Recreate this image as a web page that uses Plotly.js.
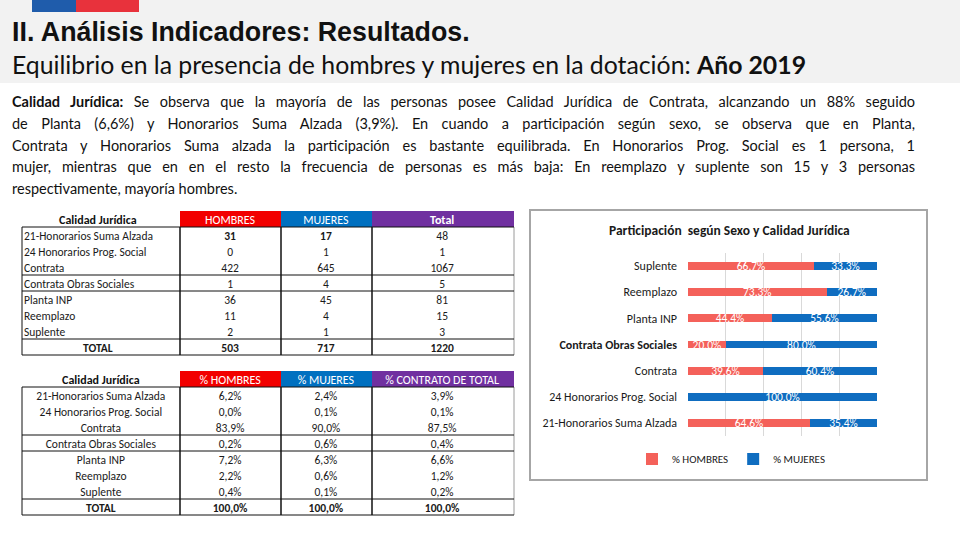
<!DOCTYPE html>
<html>
<head>
<meta charset="utf-8">
<script src="https://cdn.plot.ly/plotly-3.0.1.min.js"></script>
<style>
  body { margin: 0; width: 960px; height: 540px; background: #fff; overflow: hidden; position: relative; }
  #plot { position: absolute; left: 0; top: 0; width: 960px; height: 540px; }
  .band { position: absolute; left: 0; top: 0; width: 960px; height: 83px; background: #f2f2f2; }
  .flag { position: absolute; top: 0; height: 12px; }
  .title { position: absolute; left: 12px; top: 17px; font: bold 26.8px "Liberation Sans", Arial, sans-serif; color: #111; white-space: nowrap; }
  .subtitle { position: absolute; left: 12px; top: 50px; font: 24.8px Lato, "Noto Sans", sans-serif; color: #111; white-space: nowrap; }
  .para { position: absolute; left: 12px; top: 91px; width: 903px; font: 14.5px Lato, "Noto Sans", sans-serif; color: #111; line-height: 21.8px; }
  .para div { text-align: justify; text-align-last: justify; }
  .para div.last { text-align-last: left; }
</style>
</head>
<body>
<div class="band"></div>
<div class="flag" style="left:32px;width:44px;background:#1f5cab"></div>
<div class="flag" style="left:76px;width:63px;background:#e8323c"></div>
<div class="title">II. Análisis Indicadores: Resultados.</div>
<div class="subtitle">Equilibrio en la presencia de hombres y mujeres en la dotación: <b>Año 2019</b></div>
<div id="plot"></div>
<div class="para">
  <div><b>Calidad Jurídica:</b> Se observa que la mayoría de las personas posee Calidad Jurídica de Contrata, alcanzando un 88% seguido</div>
  <div>de Planta (6,6%) y Honorarios Suma Alzada (3,9%). En cuando a participación según sexo, se observa que en Planta,</div>
  <div>Contrata y Honorarios Suma alzada la participación es bastante equilibrada. En Honorarios Prog. Social es 1 persona, 1</div>
  <div>mujer, mientras que en en el resto la frecuencia de personas es más baja: En reemplazo y suplente son 15 y 3 personas</div>
  <div class="last">respectivamente, mayoría hombres.</div>
</div>
<script>
// --- data ---
const categories = ['21-Honorarios Suma Alzada', '24 Honorarios Prog. Social', 'Contrata',
  'Contrata Obras Sociales', 'Planta INP', 'Reemplazo', 'Suplente'];
const hombres = ['31', '0', '422', '1', '36', '11', '2'];
const mujeres = ['17', '1', '645', '4', '45', '4', '1'];
const totales = ['48', '1', '1067', '5', '81', '15', '3'];
const totalRow = ['TOTAL', '503', '717', '1220'];

const pctHombres = ['6,2%', '0,0%', '83,9%', '0,2%', '7,2%', '2,2%', '0,4%'];
const pctMujeres = ['2,4%', '0,1%', '90,0%', '0,6%', '6,3%', '0,6%', '0,1%'];
const pctTotal = ['3,9%', '0,1%', '87,5%', '0,4%', '6,6%', '1,2%', '0,2%'];
const pctTotalRow = ['TOTAL', '100,0%', '100,0%', '100,0%'];

const header1 = ['Calidad Jurídica', 'HOMBRES', 'MUJERES', 'Total'];
const header2 = ['Calidad Jurídica', '% HOMBRES', '% MUJERES', '% CONTRATO DE TOTAL'];
const headerColors = ['#ffffff', '#f20000', '#0070c0', '#7030a0'];

// participation by sex, bottom to top
const partHombres = [64.6, 0, 39.6, 20.0, 44.4, 73.3, 66.7];
const partMujeres = [35.4, 100.0, 60.4, 80.0, 55.6, 26.7, 33.3];

// --- layout helpers (pixel -> paper) ---
const W = 960, H = 540;
const px = v => v / W;
const py = v => 1 - v / H;
const FONT = 'Carlito, Lato, sans-serif';

const colW = [158, 101, 91, 142];
const tLeft = 22, headH = 16, rowH = 16, nRows = 8;
const textLift = 4; // plotly puts table text low in short rows
const CLEAR = 'rgba(0,0,0,0)';

function makeTable(top, header, cols, align, weights, headWeights, padLeft) {
  const t = top - textLift;
  // widen the first text column to the left so left-aligned text sits near the border
  const widths = [colW[0] + padLeft].concat(colW.slice(1));
  const x0 = tLeft - padLeft;
  return {
    type: 'table',
    domain: { x: [px(x0), px(x0 + widths.reduce((a, b) => a + b))], y: [py(t + headH + nRows * rowH + 10), py(t)] },
    columnwidth: widths,
    header: {
      values: header,
      height: headH,
      align: 'center',
      fill: { color: CLEAR },
      line: { color: CLEAR, width: 0 },
      font: { family: FONT, size: 12, color: ['#111', '#fff', '#fff', '#fff'], weight: headWeights }
    },
    cells: {
      values: cols,
      height: rowH,
      align: align,
      fill: { color: CLEAR },
      line: { color: CLEAR, width: 0 },
      font: { family: FONT, size: 11.5, color: '#1a1a1a', weight: weights }
    }
  };
}

function tableShapes(top, rowsBelow) {
  const out = [];
  const bottom = top + headH + nRows * rowH;
  let x = tLeft;
  const xs = [x];
  colW.forEach(w => { x += w; xs.push(x); });
  // coloured header cells
  headerColors.forEach((c, i) => {
    if (i === 0) return;
    out.push({
      type: 'rect', xref: 'paper', yref: 'paper', layer: 'below',
      x0: px(xs[i]), x1: px(xs[i + 1]), y0: py(top + headH), y1: py(top),
      line: { width: 0 }, fillcolor: c
    });
  });
  xs.forEach((xv, i) => out.push({
    type: 'line', xref: 'paper', yref: 'paper',
    x0: px(xv), x1: px(xv), y0: py(top + headH), y1: py(bottom),
    line: { color: i === xs.length - 1 ? '#9a9a9a' : '#111', width: i === 0 || i === xs.length - 1 ? 1 : 1.5 }
  }));
  [0].concat(rowsBelow, [nRows]).forEach(r => out.push({
    type: 'line', xref: 'paper', yref: 'paper',
    x0: px(tLeft), x1: px(xs[xs.length - 1]), y0: py(top + headH + r * rowH), y1: py(top + headH + r * rowH),
    line: { color: '#111', width: 1 }
  }));
  return out;
}

const N = 'normal', B = 'bold', L = 'left', C = 'center';
const lastBold = () => [N, N, N, N, N, N, N, B];
const t1 = makeTable(211, header1, [
  categories.concat([totalRow[0]]),
  hombres.concat([totalRow[1]]),
  mujeres.concat([totalRow[2]]),
  totales.concat([totalRow[3]])
], [[L, L, L, L, L, L, L, C], C, C, C],
  [lastBold(), [B, N, N, N, N, N, N, B], [B, N, N, N, N, N, N, B], lastBold()], [B, N, N, B], 6);

const t2 = makeTable(371, header2, [
  categories.concat([pctTotalRow[0]]),
  pctHombres.concat([pctTotalRow[1]]),
  pctMujeres.concat([pctTotalRow[2]]),
  pctTotal.concat([pctTotalRow[3]])
], C, [lastBold(), lastBold(), lastBold(), lastBold()], [B, N, N, N], 0);

const fmt = v => v ? v.toFixed(1).replace('.', ',') + '%' : '';

const barH = {
  type: 'bar', orientation: 'h', name: '% HOMBRES',
  y: categories, x: partHombres, width: 0.3,
  marker: { color: '#f4615a', line: { width: 0 } },
  text: partHombres.map(fmt), textposition: 'inside', insidetextanchor: 'middle',
  constraintext: 'none', textfont: { family: FONT, size: 11.5, color: '#ffffff' },
  xaxis: 'x', yaxis: 'y', hoverinfo: 'skip'
};
const barM = {
  type: 'bar', orientation: 'h', name: '% MUJERES',
  y: categories, x: partMujeres, width: 0.3,
  marker: { color: '#0f6dc0', line: { width: 0 } },
  text: partMujeres.map(fmt), textposition: 'inside', insidetextanchor: 'middle',
  constraintext: 'none', textfont: { family: FONT, size: 11.5, color: '#ffffff' },
  xaxis: 'x', yaxis: 'y', hoverinfo: 'skip'
};

const shapes = [{
  type: 'rect', xref: 'paper', yref: 'paper', layer: 'below',
  x0: px(530), x1: px(927), y0: py(480), y1: py(210),
  line: { color: '#a6a6a6', width: 2 }, fillcolor: '#ffffff'
}].concat(tableShapes(211, [3, 4, 7]), tableShapes(371, [3, 4, 7]));

const layout = {
  width: W, height: H,
  margin: { l: 0, r: 0, t: 0, b: 0 },
  paper_bgcolor: 'rgba(0,0,0,0)',
  plot_bgcolor: 'rgba(0,0,0,0)',
  font: { family: FONT, color: '#1a1a1a' },
  barmode: 'stack',
  showlegend: true,
  legend: {
    orientation: 'h', x: px(731), xanchor: 'center', y: py(459), yanchor: 'middle',
    font: { family: FONT, size: 11, color: '#222' }, bgcolor: 'rgba(0,0,0,0)',
    traceorder: 'normal', itemwidth: 30
  },
  xaxis: {
    domain: [px(688), px(877)], range: [0, 100], dtick: 20, tick0: 0,
    showgrid: true, gridcolor: '#d9d9d9', gridwidth: 1, zeroline: false,
    showticklabels: false, showline: false, fixedrange: true, anchor: 'y'
  },
  yaxis: {
    domain: [py(436), py(253)], range: [-0.5, 6.5], type: 'category',
    categoryorder: 'array', categoryarray: categories,
    tickvals: categories,
    ticktext: categories.map(c => c === 'Contrata Obras Sociales' ? '<b>' + c + '</b>' : c),
    ticks: '', ticklabelstandoff: 10, showgrid: false, zeroline: false, showline: false,
    tickfont: { family: FONT, size: 12, color: '#1a1a1a' }, fixedrange: true, anchor: 'x'
  },
  annotations: [{
    xref: 'paper', yref: 'paper', x: px(729), y: py(230), xanchor: 'center', yanchor: 'middle',
    text: '<b>Participación  según Sexo y Calidad Jurídica</b>', showarrow: false,
    font: { family: FONT, size: 13.5, color: '#1a1a1a' }
  }],
  shapes: shapes
};

Plotly.newPlot('plot', [barH, barM, t1, t2], layout, { displayModeBar: false, staticPlot: true });
</script>
</body>
</html>
